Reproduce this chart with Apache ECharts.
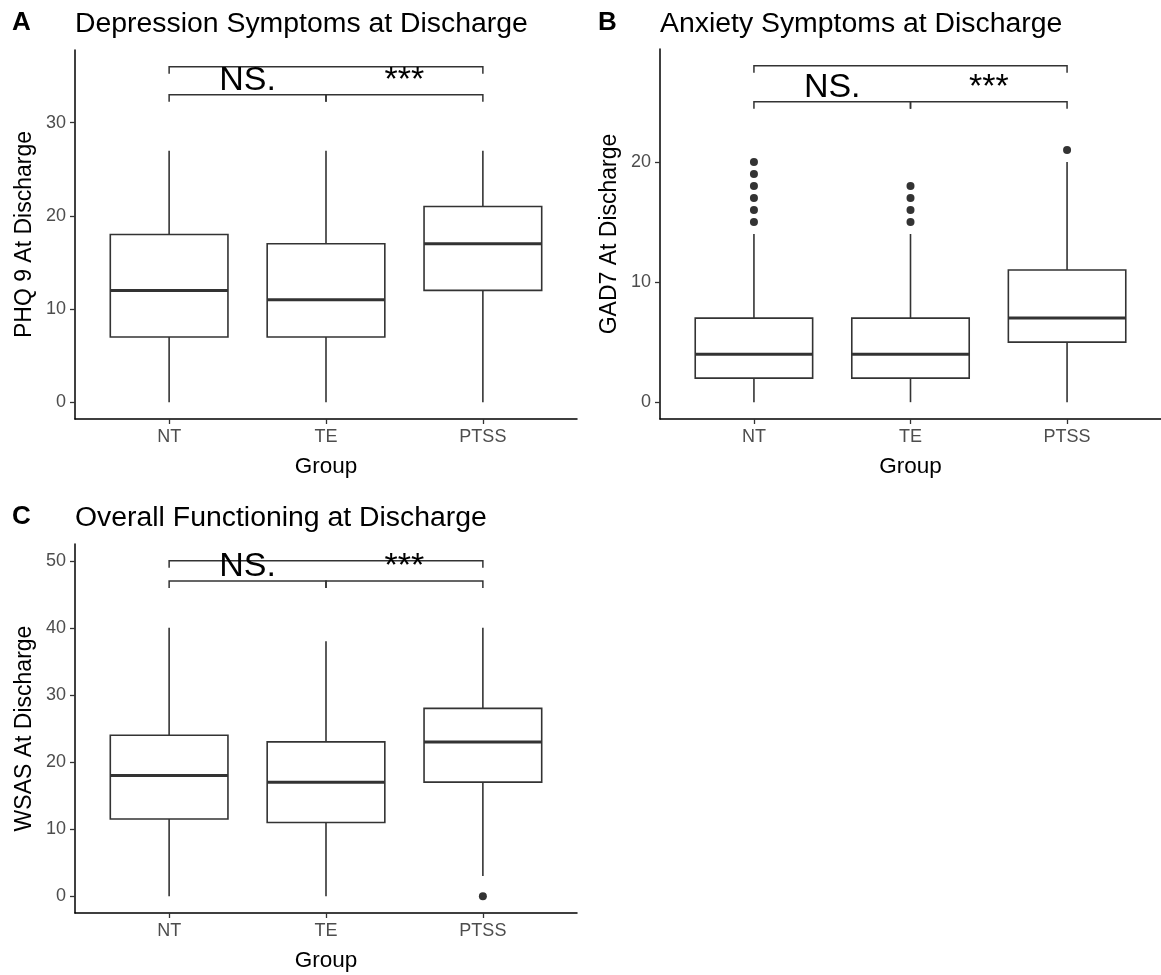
<!DOCTYPE html>
<html>
<head>
<meta charset="utf-8">
<script src="https://cdn.jsdelivr.net/npm/echarts@6/dist/echarts.min.js"></script>
<style>html,body{margin:0;padding:0;background:#fff;}#c{width:1161px;height:975px;}</style>
</head>
<body>
<div id="c"></div>
<script>
// ---- data ----
const groups = ['NT', 'TE', 'PTSS'];
// [min, q1, median, q3, max] per group
const boxesA = [[0, 7, 12, 18, 27], [0, 7, 11, 17, 27], [0, 12, 17, 21, 27]];
const boxesB = [[0, 2, 4, 7, 14], [0, 2, 4, 7, 14], [0, 5, 7, 11, 20]];
const boxesC = [[0, 11.5, 18, 24, 40], [0, 11, 17, 23, 38], [3, 17, 23, 28, 40]];
// outliers: [groupIndex, value]
const outliersA = [];
const outliersB = [[0, 15], [0, 16], [0, 17], [0, 18], [0, 19], [0, 20], [1, 15], [1, 16], [1, 17], [1, 18], [2, 21]];
const outliersC = [[2, 0]];
// brackets: [fromGroup, toGroup, y]
const bracketsA = [[0, 2, 36], [0, 1, 33], [1, 2, 33]];
const bracketsB = [[0, 2, 28], [0, 1, 25], [1, 2, 25]];
const bracketsC = [[0, 2, 50], [0, 1, 47], [1, 2, 47]];
const bracketLabels = ['', 'NS.', '***'];
const ticksA = [0, 10, 20, 30];
const ticksB = [0, 10, 20];
const ticksC = [0, 10, 20, 30, 40, 50];
const titles = ['Depression Symptoms at Discharge', 'Anxiety Symptoms at Discharge', 'Overall Functioning at Discharge'];
const tags = ['A', 'B', 'C'];
const yNames = ['PHQ 9 At Discharge', 'GAD7 At Discharge', 'WSAS At Discharge'];

// ---- layout ----
const FONT = "'Liberation Sans', Arial, sans-serif";
const panels = [
  { boxes: boxesA, out: outliersA, br: bracketsA, ticks: ticksA, min: -1.8, max: 37.8, grid: { left: 75, top: 50, width: 502, height: 369 }, tx: 75, ty: 10, tagx: 12 },
  { boxes: boxesB, out: outliersB, br: bracketsB, ticks: ticksB, min: -1.4, max: 29.4, grid: { left: 660, top: 49, width: 501, height: 370 }, tx: 660, ty: 10, tagx: 598 },
  { boxes: boxesC, out: outliersC, br: bracketsC, ticks: ticksC, min: -2.5, max: 52.5, grid: { left: 75, top: 544, width: 502, height: 369 }, tx: 75, ty: 504, tagx: 12 }
];

const grid = [], xAxis = [], yAxis = [], series = [], title = [];
panels.forEach((p, i) => {
  grid.push(Object.assign({}, p.grid));
  xAxis.push({
    gridIndex: i, type: 'value', min: 0.4, max: 3.6,
    axisLine: { show: true, onZero: false, lineStyle: { color: '#000', width: 1.5 } },
    axisTick: { show: true, customValues: [1, 2, 3], length: 5, lineStyle: { color: '#333', width: 1.3 } },
    axisLabel: { show: true, customValues: [1, 2, 3], formatter: v => groups[Math.round(v) - 1], color: '#4d4d4d', fontSize: 18, fontFamily: FONT, margin: 9 },
    splitLine: { show: false },
    name: 'Group', nameLocation: 'middle', nameGap: 36,
    nameTextStyle: { fontSize: 22.5, color: '#000', fontFamily: FONT }
  });
  yAxis.push({
    gridIndex: i, type: 'value', min: p.min, max: p.max,
    axisLine: { show: true, onZero: false, lineStyle: { color: '#000', width: 1.5 } },
    axisTick: { show: true, customValues: p.ticks, length: 5, lineStyle: { color: '#333', width: 1.3 } },
    axisLabel: { show: true, customValues: p.ticks, color: '#4d4d4d', fontSize: 18, fontFamily: FONT, margin: 9 },
    splitLine: { show: false },
    name: yNames[i], nameLocation: 'middle', nameGap: 39, nameRotate: 90,
    nameTextStyle: { fontSize: 23, color: '#000', fontFamily: FONT }
  });
  title.push({ text: tags[i], left: p.tagx, top: p.ty, padding: 0, textStyle: { fontSize: 26, fontWeight: 'bold', color: '#000', fontFamily: FONT } });
  title.push({ text: titles[i], left: p.tx, top: p.ty, padding: 0, textStyle: { fontSize: 28.4, fontWeight: 'normal', color: '#000', fontFamily: FONT } });

  // boxes
  series.push({
    type: 'custom', xAxisIndex: i, yAxisIndex: i, silent: true,
    data: p.boxes.map((b, g) => [g + 1].concat(b)),
    encode: { x: 0, y: [1, 2, 3, 4, 5] },
    renderItem: function (params, api) {
      const x = api.value(0);
      const lo = api.coord([x, api.value(1)]);
      const q1 = api.coord([x, api.value(2)]);
      const md = api.coord([x, api.value(3)]);
      const q3 = api.coord([x, api.value(4)]);
      const hi = api.coord([x, api.value(5)]);
      const hw = api.size([0.375, 0])[0];
      const st = { stroke: '#333', lineWidth: 1.6 };
      return {
        type: 'group', children: [
          { type: 'line', shape: { x1: lo[0], y1: lo[1], x2: q1[0], y2: q1[1] }, style: st },
          { type: 'line', shape: { x1: q3[0], y1: q3[1], x2: hi[0], y2: hi[1] }, style: st },
          { type: 'rect', shape: { x: q3[0] - hw, y: q3[1], width: 2 * hw, height: q1[1] - q3[1] }, style: { fill: '#fff', stroke: '#333', lineWidth: 1.6 } },
          { type: 'line', shape: { x1: md[0] - hw, y1: md[1], x2: md[0] + hw, y2: md[1] }, style: { stroke: '#333', lineWidth: 3 } }
        ]
      };
    }
  });
  // outliers
  series.push({
    type: 'scatter', xAxisIndex: i, yAxisIndex: i, silent: true,
    data: p.out.map(o => [o[0] + 1, o[1]]),
    symbolSize: 8, itemStyle: { color: '#333', opacity: 1 }
  });
  // significance brackets
  series.push({
    type: 'custom', xAxisIndex: i, yAxisIndex: i, silent: true, clip: false,
    data: p.br.map(b => [b[0] + 1, b[1] + 1, b[2]]),
    encode: { x: [0, 1], y: 2 },
    renderItem: function (params, api) {
      const a = api.coord([api.value(0), api.value(2)]);
      const b = api.coord([api.value(1), api.value(2)]);
      const tip = 7;
      const label = bracketLabels[params.dataIndex];
      const children = [
        { type: 'polyline', shape: { points: [[a[0], a[1] + tip], [a[0], a[1]], [b[0], b[1]], [b[0], b[1] + tip]] }, style: { stroke: '#333', lineWidth: 1.5, fill: null } }
      ];
      if (label) {
        children.push({ type: 'text', x: (a[0] + b[0]) / 2, y: a[1] + 3, style: { text: label, fontSize: 34, fontFamily: FONT, fill: '#000', align: 'center', verticalAlign: 'bottom' }, z2: 10 });
      }
      return { type: 'group', children: children };
    }
  });
});

const chart = echarts.init(document.getElementById('c'), null, { renderer: 'canvas' });
chart.setOption({ backgroundColor: '#fff', animation: false, title, grid, xAxis, yAxis, series });
</script>
</body>
</html>
